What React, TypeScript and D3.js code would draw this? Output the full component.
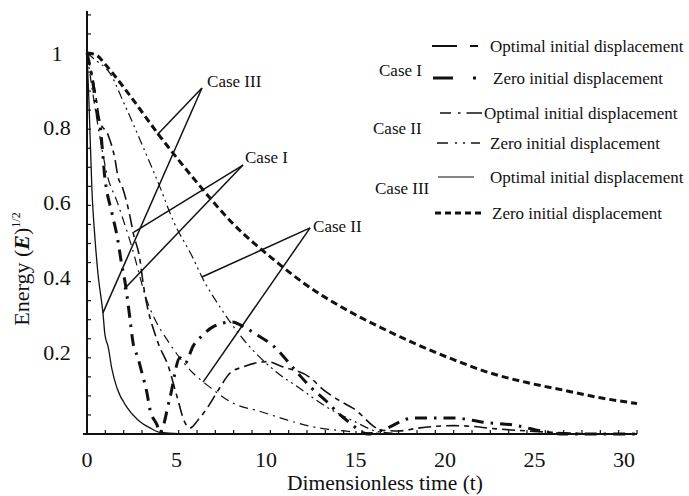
import React from "react";
import * as d3 from "d3";

const W = 689;
const H = 496;

// tick labels
const xTickValues = [0, 5, 10, 15, 20, 25, 30];
const xTickText = ["0", "5", "10", "15", "20", "25", "30"];
const yTickValues = [0.2, 0.4, 0.6, 0.8, 1];
const yTickText = ["0.2", "0.4", "0.6", "0.8", "1"];

// Case I – optimal initial displacement
const caseIOptT = [0, 0.44, 0.71, 1.15, 1.53, 1.69, 1.91, 2.35, 2.51, 2.89, 3.05, 3.87, 4.42, 4.9, 5.35, 5.62, 6.06, 6.55, 7.26, 7.8, 8.5, 9.8, 10.7, 12.2, 12.8, 13.9, 14.5, 16.1, 17, 18, 19, 20, 21, 22, 24, 26, 28, 30];
const caseIOptV = [1, 0.9, 0.82, 0.785, 0.72, 0.675, 0.65, 0.57, 0.53, 0.457, 0.4, 0.24, 0.18, 0.1, 0.029, 0.016, 0.037, 0.068, 0.123, 0.16, 0.176, 0.19, 0.176, 0.147, 0.12, 0.084, 0.068, 0.01, 0.008, 0.015, 0.02, 0.022, 0.02, 0.015, 0.008, 0.003, 0, 0];

// Case I – zero initial displacement
const caseIZeroT = [0, 0.33, 0.55, 0.71, 0.98, 1.36, 1.64, 1.91, 2.07, 2.35, 2.51, 2.78, 3.0, 3.27, 3.44, 3.82, 3.98, 4.5, 5.07, 5.35, 5.78, 6.33, 6.82, 7.9, 8.6, 9.44, 10.1, 10.5, 11.2, 12.2, 13.1, 13.7, 14.3, 15.3, 16.1, 17.8, 18.7, 20.1, 20.9, 21.6, 23.2, 25.1, 26, 30];
const caseIZeroV = [1, 0.92, 0.84, 0.81, 0.67, 0.58, 0.52, 0.44, 0.4, 0.3, 0.24, 0.2, 0.16, 0.108, 0.063, 0.024, 0.003, 0.09, 0.2, 0.186, 0.23, 0.26, 0.28, 0.294, 0.28, 0.255, 0.234, 0.215, 0.176, 0.123, 0.084, 0.055, 0.031, 0, 0.01, 0.042, 0.042, 0.042, 0.037, 0.031, 0.024, 0.005, 0, 0];

// Case II – optimal initial displacement
const caseIIOptT = [0, 0.3, 0.7, 1.1, 1.64, 2.45, 3.27, 3.82, 4.4, 4.9, 5.78, 6.7, 8, 9.4, 10.9, 12.2, 14, 15.5, 17, 30];
const caseIIOptV = [1, 0.9, 0.78, 0.68, 0.61, 0.49, 0.35, 0.29, 0.245, 0.21, 0.16, 0.123, 0.08, 0.06, 0.037, 0.02, 0.008, 0.003, 0, 0];

// Case II – zero initial displacement
const caseIIZeroT = [0, 0.5, 1.25, 2, 3, 3.98, 4.7, 5.8, 6.27, 7.3, 8.5, 10.4, 11.6, 13.1, 14.5, 16, 18, 30];
const caseIIZeroV = [1, 0.98, 0.947, 0.87, 0.76, 0.648, 0.56, 0.46, 0.412, 0.33, 0.25, 0.16, 0.12, 0.07, 0.035, 0.005, 0, 0];

// Case III – optimal initial displacement
const caseIIIOptT = [0, 0.1, 0.27, 0.44, 0.6, 0.87, 0.98, 1.15, 1.36, 1.64, 2.18, 2.78, 3.44, 4.0, 5, 10, 15, 20, 25, 30];
const caseIIIOptV = [1, 0.88, 0.64, 0.51, 0.42, 0.318, 0.26, 0.23, 0.17, 0.12, 0.07, 0.037, 0.016, 0.004, 0.001, 0, 0, 0, 0, 0];

// Case III – zero initial displacement
const caseIIIZeroT = [0, 0.5, 1, 2, 4, 6, 8, 10, 12, 14, 16, 18, 20, 22, 24, 26, 28, 30];
const caseIIIZeroV = [1, 0.995, 0.97, 0.91, 0.78, 0.66, 0.55, 0.465, 0.39, 0.33, 0.28, 0.235, 0.195, 0.16, 0.135, 0.115, 0.095, 0.08];

// annotation pointers (data space): label, label anchor, vertex, targets
const annLabels = ["Case III", "Case I", "Case II"];
const annLabelT = [6.55, 8.62, 12.33];
const annLabelV = [0.911, 0.711, 0.53];
const annVertexT = [6.27, 8.51, 12.17];
const annVertexV = [0.908, 0.706, 0.541];
const annTargetT = [[3.82, 0.87], [2.56, 2.02], [6.27, 6.33]];
const annTargetV = [[0.785, 0.318], [0.53, 0.38], [0.412, 0.136]];

const FONT = "'Liberation Serif', 'Times New Roman', Times, serif";
const INK = "#111";

const series = [
  { t: caseIOptT, v: caseIOptV, w: 1.6, dash: "13,5,5,5" },
  { t: caseIZeroT, v: caseIZeroV, w: 3, dash: "12,7,2.5,7" },
  { t: caseIIOptT, v: caseIIOptV, w: 1.2, dash: "9,5,2,5" },
  { t: caseIIZeroT, v: caseIIZeroV, w: 1.2, dash: "9,4,2,4,2,4" },
  { t: caseIIIOptT, v: caseIIIOptV, w: 1.3, dash: "none" },
  { t: caseIIIZeroT, v: caseIIIZeroV, w: 3, dash: "7,4" },
];

export default function App() {
  const x = d3.scaleLinear().domain([0, 30]).range([87, 637]);
  const y = d3.scaleLinear().domain([0, 1]).range([434, 53]);
  const xLab = d3.scaleLinear().domain([0, 30]).range([87, 624]);
  const yLab = d3.scaleLinear().domain([0, 1]).range([427, 53]);

  const line = d3
    .line<[number, number]>()
    .x((d) => x(d[0]))
    .y((d) => y(d[1]))
    .curve(d3.curveMonotoneX);

  const xMinor = d3.range(1, 31);
  const yMinor = d3.range(1, 23).map((i) => i * 0.05);

  const legendRows = [
    { y: 46, text: "Optimal initial displacement", tx: 490, x1: 432, x2: 478, w: 1.8, dash: "25,13,8" },
    { y: 78, text: "Zero initial displacement", tx: 493, x1: 433, x2: 477, w: 3.2, dash: "20,20,3" },
    { y: 113, text: "Optimal initial displacement", tx: 484, x1: 440, x2: 482, w: 1.5, dash: "11,7,2.5,6,16" },
    { y: 143, text: "Zero initial displacement", tx: 490, x1: 437, x2: 483, w: 1.5, dash: "11,7,2,6,2,6,9" },
    { y: 177, text: "Optimal initial displacement", tx: 490, x1: 438, x2: 474, w: 1.2, dash: "none" },
    { y: 213, text: "Zero initial displacement", tx: 492, x1: 435, x2: 483, w: 3, dash: "6,4" },
  ];
  const caseRows = [
    { text: "Case I", x: 379, y: 76 },
    { text: "Case II", x: 373, y: 134 },
    { text: "Case III", x: 375, y: 194 },
  ];

  return (
    <svg width={W} height={H} viewBox={`0 0 ${W} ${H}`} style={{ display: "block", position: "absolute", left: 0, top: 0, background: "#fff" }}>
      <rect x={0} y={0} width={W} height={H} fill="#fff" />
      {/* curves */}
      {series.map((s, i) => (
        <path
          key={i}
          d={line(s.t.map((t, k) => [t, s.v[k]] as [number, number])) || ""}
          fill="none"
          stroke={INK}
          strokeWidth={s.w}
          strokeDasharray={s.dash}
          strokeLinecap="butt"
          strokeLinejoin="round"
        />
      ))}

      {/* axes */}
      <line x1={x(0) - 4} x2={x(30)} y1={y(0)} y2={y(0)} stroke={INK} strokeWidth={2} />
      <line x1={x(0)} x2={x(0)} y1={y(0)} y2={y(1.11)} stroke={INK} strokeWidth={2} />
      {xMinor.map((t) => (
        <line key={"xt" + t} x1={x(t)} x2={x(t)} y1={y(0)} y2={y(0) - 4} stroke={INK} strokeWidth={1.2} />
      ))}
      {yMinor.map((v, i) => (
        <line key={"yt" + i} x1={x(0)} x2={x(0) + 4} y1={y(v)} y2={y(v)} stroke={INK} strokeWidth={1.2} />
      ))}
      {xTickValues.map((t, i) => (
        <text key={"xl" + i} x={xLab(t)} y={467} textAnchor="middle" fontFamily={FONT} fontSize={22} fill={INK}>
          {xTickText[i]}
        </text>
      ))}
      {yTickValues.map((v, i) => (
        <text key={"yl" + i} x={57} y={yLab(v) + 7.5} textAnchor="middle" fontFamily={FONT} fontSize={22} fill={INK}>
          {yTickText[i]}
        </text>
      ))}
      <text x={385} y={490} textAnchor="middle" fontFamily={FONT} fontSize={21.5} fill={INK}>
        Dimensionless time (t)
      </text>
      <text transform="translate(29,269) rotate(-90)" textAnchor="middle" fontFamily={FONT} fontSize={22} fill={INK}>
        Energy (<tspan fontWeight="bold" fontStyle="italic">E</tspan>)
        <tspan dy={-9} fontSize={12}>1/2</tspan>
      </text>

      {/* annotations */}
      {annLabels.map((lab, i) => (
        <g key={"ann" + i}>
          {annTargetT[i].map((tt, j) => (
            <line
              key={j}
              x1={x(annVertexT[i])}
              y1={y(annVertexV[i])}
              x2={x(tt)}
              y2={y(annTargetV[i][j])}
              stroke={INK}
              strokeWidth={1.5}
            />
          ))}
          <text x={x(annLabelT[i])} y={y(annLabelV[i])} fontFamily={FONT} fontSize={17} fill={INK}>
            {lab}
          </text>
        </g>
      ))}

      {/* legend */}
      {caseRows.map((c, i) => (
        <text key={"cr" + i} x={c.x} y={c.y} fontFamily={FONT} fontSize={17} fill={INK}>
          {c.text}
        </text>
      ))}
      {legendRows.map((r, i) => (
        <g key={"lg" + i}>
          <line x1={r.x1} x2={r.x2} y1={r.y} y2={r.y} stroke={INK} strokeWidth={r.w} strokeDasharray={r.dash} />
          <text x={r.tx} y={r.y + 6} fontFamily={FONT} fontSize={17} fill={INK}>
            {r.text}
          </text>
        </g>
      ))}
    </svg>
  );
}
